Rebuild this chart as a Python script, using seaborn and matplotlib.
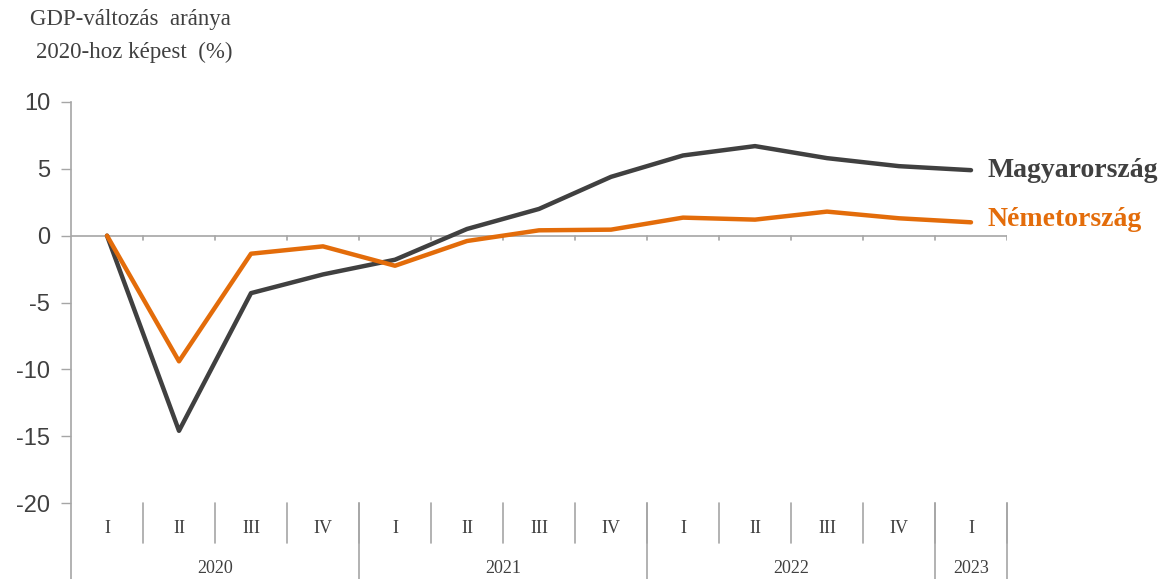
import numpy as np
import pandas as pd
import seaborn as sns
import matplotlib.pyplot as plt

# negyedéves adatok, 2020 I = 0
quarters = ['I', 'II', 'III', 'IV', 'I', 'II', 'III', 'IV', 'I', 'II', 'III', 'IV', 'I']
years = ['2020', '2021', '2022', '2023']
year_lengths = [4, 4, 4, 1]
hungary = [0, -14.6, -4.3, -2.9, -1.8, 0.5, 2.0, 4.4, 6.0, 6.7, 5.8, 5.2, 4.9]
germany = [0, -9.4, -1.35, -0.8, -2.25, -0.4, 0.4, 0.45, 1.35, 1.2, 1.8, 1.3, 1.0]

c_hu = '#404040'
c_de = '#E36C0A'
grey = '#A6A6A6'
txt = '#404040'

sns.set_style('white')
plt.rcParams['font.family'] = ['Liberation Serif', 'DejaVu Serif']

df = pd.DataFrame({
    'idx': list(range(len(quarters))) * 2,
    'value': hungary + germany,
    'country': ['Magyarország'] * len(hungary) + ['Németország'] * len(germany),
})

fig = plt.figure(figsize=(11.63, 5.79), dpi=100)
ax = fig.add_axes([71 / 1163, 0, (1007 - 71) / 1163, 1 - 102 / 579])

sns.lineplot(data=df, x='idx', y='value', hue='country',
             palette={'Magyarország': c_hu, 'Németország': c_de},
             linewidth=3.2, ax=ax, legend=False, solid_capstyle='round')

ymin = -20 - (579 - 503) / ((503 - 102) / 30)
ax.set_xlim(-0.5, len(quarters) - 0.5)
ax.set_ylim(ymin, 10)
ax.set_xlabel('')
ax.set_ylabel('')
ax.set_xticks([])
ax.set_yticks(np.arange(-20, 11, 5))
ax.set_yticklabels([str(v) for v in range(-20, 11, 5)],
                   fontfamily='Liberation Sans', fontsize=17, color=txt)
ax.tick_params(axis='y', length=7, width=1, color=grey, pad=8, direction='out', left=True)

for s in ['top', 'right', 'bottom']:
    ax.spines[s].set_visible(False)
ax.spines['left'].set_color(grey)
ax.spines['left'].set_linewidth(1.2)

# nulla tengely kis osztásokkal
ax.axhline(0, color=grey, lw=1.2, zorder=1)
for b in np.arange(0.5, len(quarters), 1):
    ax.plot([b, b], [0, -0.35], color=grey, lw=1.2, zorder=1)

# kategória címkék
for i, q in enumerate(quarters):
    ax.text(i, -21.9, q, ha='center', va='center', fontsize=13, color=txt)
for b in np.arange(0.5, len(quarters), 1):
    ax.plot([b, b], [-20, -23], color=grey, lw=1.2, clip_on=False)
start = -0.5
for y, n in zip(years, year_lengths):
    end = start + n
    ax.plot([end, end], [-20, ymin], color=grey, lw=1.2, clip_on=False)
    ax.text((start + end) / 2, -24.9, y, ha='center', va='center', fontsize=13, color=txt)
    start = end

# sorozat címkék
ax.text(len(quarters) - 0.77, hungary[-1], 'Magyarország', ha='left', va='center',
        fontsize=20, fontweight='bold', color=c_hu, clip_on=False)
ax.text(len(quarters) - 0.77, germany[-1] + 0.2, 'Németország', ha='left', va='center',
        fontsize=20, fontweight='bold', color=c_de, clip_on=False)

fig.text(30 / 1163, 1 - 20 / 579, 'GDP-változás  aránya', ha='left', va='center',
         fontsize=16.5, color=txt)
fig.text(36 / 1163, 1 - 52 / 579, '2020-hoz képest  (%)', ha='left', va='center',
         fontsize=16.5, color=txt)

fig.savefig('out.png', dpi=100)
